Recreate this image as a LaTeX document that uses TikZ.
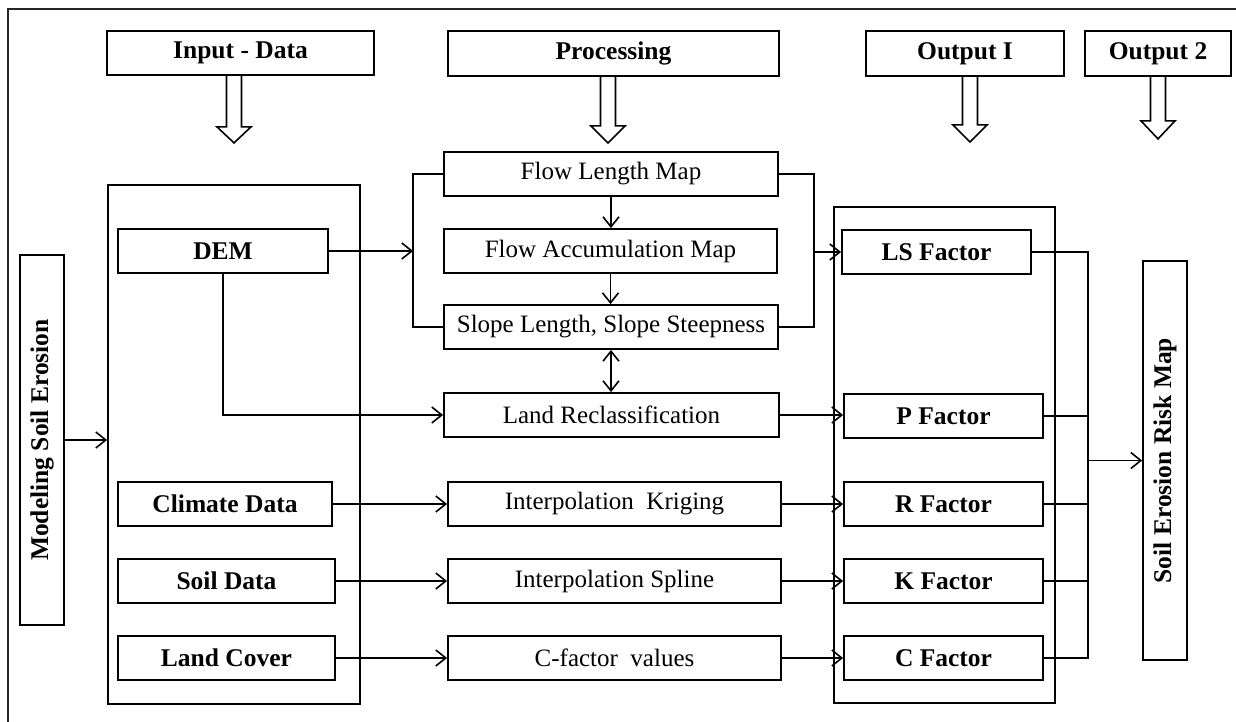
\documentclass[tikz,border=0pt]{standalone}
\usepackage{fontspec}
\usepackage{graphicx}
\setmainfont{Liberation Serif}
\usetikzlibrary{arrows.meta}
\newcommand\hollowarr[3]{\draw[harr] (#1) ++(-7.5,0) -- ++(0,#2) -- ++(-9.5,0) -- ++(17,#3) -- ++(17,-#3) -- ++(-9.5,0) -- ++(0,-#2);}
\begin{document}
\begin{tikzpicture}[x=1pt,y=-1pt,
  box/.style={draw=black, line width=1.8pt, inner sep=0pt, text=black, font=\fontsize{25}{28}\selectfont},
  bbox/.style={box, font=\fontsize{25.5}{28}\selectfont\bfseries},
  framebox/.style={draw=black, line width=1.8pt, inner sep=0pt},
  conn/.style={draw=black, line width=1.6pt},
  tip/.tip={Straight Barb[length=10pt,width=16pt,line width=1.6pt]},
  arr/.style={conn, -tip},
  harr/.style={draw=black, line width=1.6pt, line join=miter}]
\useasboundingbox (0,0) rectangle (1236,721);
\begin{scope}
\clip (0,0) rectangle (1236,721);
\draw[line width=1.8pt, draw=black!85] (8,9) rectangle (1270,760);
\end{scope}

% headers
\node[bbox, minimum width=267, minimum height=44] (hin) at (240.5,53) {Input - Data};
\node[bbox, minimum width=331, minimum height=45] (hproc) at (613.5,53.5) {Processing};
\node[bbox, minimum width=198, minimum height=45] (hout1) at (965,53.5) {Output I};
\node[bbox, minimum width=146, minimum height=45] (hout2) at (1158,53.5) {Output 2};

\coordinate (t1) at ([xshift=-6.5pt]hin.south);
\coordinate (t2) at ([xshift=-5.5pt]hproc.south);
\coordinate (t3) at ([xshift=5pt]hout1.south);
\coordinate (t4) at (hout2.south);
\hollowarr{t1}{51}{16}
\hollowarr{t2}{49}{17}
\hollowarr{t3}{48}{17}
\hollowarr{t4}{44}{18}

% frames
\node[framebox, minimum width=252, minimum height=519] (inframe) at (234,444.5) {};
\node[framebox, minimum width=221, minimum height=496] (outframe) at (944.5,455) {};

% left column
\node[bbox, minimum width=44, minimum height=370] (mse) at (42,440) {\rotatebox{90}{Modeling Soil Erosion}};
\node[bbox, minimum width=210, minimum height=44] (dem) at (223,251) {DEM};
\node[bbox, minimum width=214, minimum height=44] (clim) at (225,504) {Climate Data};
\node[bbox, minimum width=217, minimum height=44] (soil) at (226.5,581) {Soil Data};
\node[bbox, minimum width=217, minimum height=44] (lc) at (226.5,658) {Land Cover};

% processing column
\node[box, minimum width=334, minimum height=44] (flm) at (611,174) {Flow Length Map};
\node[box, minimum width=333, minimum height=44] (fam) at (610.5,251) {Flow Accumulation Map};
\node[box, minimum width=334, minimum height=44] (sls) at (611,327) {Slope Length, Slope Steepness};
\node[box, minimum width=335, minimum height=44] (lr) at (611.5,415) {Land Reclassification};
\node[box, minimum width=333, minimum height=44] (ik) at (614.5,504) {Interpolation\ \ Kriging};
\node[box, minimum width=333, minimum height=44] (is) at (614.5,581) {Interpolation Spline};
\node[box, minimum width=333, minimum height=44] (cf) at (614.5,658) {C-factor\ \ values};

% output column
\node[bbox, minimum width=189, minimum height=44] (ls) at (936.5,252) {LS Factor};
\node[bbox, minimum width=199, minimum height=44] (pf) at (943.5,416) {P Factor};
\node[bbox, minimum width=199, minimum height=44] (rf) at (943.5,504) {R Factor};
\node[bbox, minimum width=199, minimum height=44] (kf) at (943.5,581) {K Factor};
\node[bbox, minimum width=199, minimum height=44] (cfac) at (943.5,658) {C Factor};
\node[bbox, minimum width=44, minimum height=399] (risk) at (1165,460.5) {\rotatebox{90}{Soil Erosion Risk Map}};

% connectors
\draw[arr] (mse.east) -- (mse.east -| inframe.west);
\coordinate (lb) at ([xshift=-30pt]fam.west);
\coordinate (rb) at ([xshift=35pt]flm.east);
\draw[conn] (flm.west) -- (flm.west -| lb) -- (lb |- sls.west) -- (sls.west);
\draw[conn] (flm.east) -- (rb) -- (rb |- sls.east) -- (sls.east);
\draw[arr] (dem.east) -- (lb);
\draw[arr] (rb |- ls.west) -- (ls.west);
\draw[arr] (flm.south) -- (flm.south |- fam.north);
\draw[arr] (fam.south) -- (fam.south |- sls.north);
\draw[conn, tip-tip] (sls.south) -- (sls.south |- lr.north);
\draw[arr] (dem.south) |- (lr.west);
\draw[arr] (clim.east) -- (clim.east -| ik.west);
\draw[arr] (soil.east) -- (soil.east -| is.west);
\draw[arr] (lc.east) -- (lc.east -| cf.west);
\draw[arr] (lr.east) -- (lr.east -| pf.west);
\draw[arr] (ik.east) -- (ik.east -| rf.west);
\draw[arr] (is.east) -- (is.east -| kf.west);
\draw[arr] (cf.east) -- (cf.east -| cfac.west);
\coordinate (col) at ([xshift=56pt]ls.east);
\draw[conn] (ls.east) -- (col) -- (col |- cfac.east) -- (cfac.east);
\draw[conn] (pf.east) -- (pf.east -| col);
\draw[conn] (rf.east) -- (rf.east -| col);
\draw[conn] (kf.east) -- (kf.east -| col);
\draw[arr] (col |- risk.west) -- (risk.west);
\end{tikzpicture}
\end{document}
